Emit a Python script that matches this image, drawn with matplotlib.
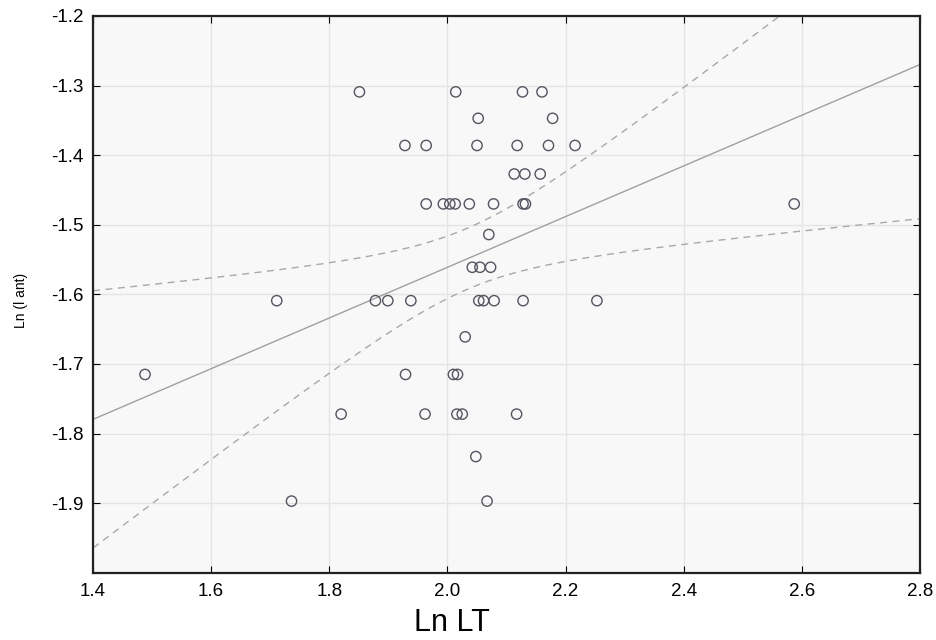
import numpy as np
import matplotlib
matplotlib.use("Agg")
import matplotlib.pyplot as plt

# Ln LT values grouped by Ln(I ant) level
x_vals = [
    1.851, 2.014, 2.127, 2.160,
    2.052, 2.178,
    1.928, 1.964, 2.050, 2.118, 2.171, 2.216,
    2.113, 2.131, 2.157,
    1.964, 1.993, 2.004, 2.013, 2.037, 2.078, 2.128, 2.132, 2.587,
    2.070,
    2.042, 2.055, 2.073,
    1.711, 1.878, 1.899, 1.938, 2.053, 2.061, 2.079, 2.128, 2.253,
    2.030,
    1.488, 1.929, 2.010, 2.017,
    1.820, 1.962, 2.016, 2.025, 2.117,
    2.048,
    1.736, 2.067,
]
y_vals = (
    [-1.309] * 4 + [-1.347] * 2 + [-1.386] * 6 + [-1.427] * 3 + [-1.470] * 9
    + [-1.514] * 1 + [-1.561] * 3 + [-1.609] * 9 + [-1.661] * 1 + [-1.715] * 4
    + [-1.772] * 5 + [-1.833] * 1 + [-1.897] * 2
)
x_ticks = [1.4, 1.6, 1.8, 2.0, 2.2, 2.4, 2.6, 2.8]
y_ticks = [-1.9, -1.8, -1.7, -1.6, -1.5, -1.4, -1.3, -1.2]

x = np.array(x_vals)
y = np.array(y_vals)
n = len(x)
slope, intercept = np.polyfit(x, y, 1)
resid = y - (slope * x + intercept)
s = np.sqrt(np.sum(resid**2) / (n - 2))
xm = x.mean()
sxx = np.sum((x - xm) ** 2)
t95 = 2.0106

xx = np.linspace(1.4, 2.8, 200)
yy = slope * xx + intercept
hw = t95 * s * np.sqrt(1.0 / n + (xx - xm) ** 2 / sxx)

plt.rcParams['font.family'] = ['Liberation Sans', 'DejaVu Sans']
fig = plt.figure(figsize=(9.37, 6.4), dpi=100)
ax = fig.add_axes([0.0993, 0.105, 0.8826, 0.870])
ax.set_facecolor('#f8f8f8')
ax.grid(True, color='#e4e4e4', linewidth=1.0)
ax.set_axisbelow(True)

ax.plot(xx, yy, color='#a0a0a0', linewidth=1.0)
ax.plot(xx, yy + hw, color='#a8a8a8', linewidth=1.0, linestyle=(0, (5, 4)))
ax.plot(xx, yy - hw, color='#a8a8a8', linewidth=1.0, linestyle=(0, (5, 4)))
ax.scatter(x, y, s=55, facecolors='none', edgecolors='#555560', linewidths=1.0, zorder=3)

ax.set_xlim(1.4, 2.8)
ax.set_ylim(-2.0, -1.2)
ax.set_xticks(x_ticks)
ax.set_yticks(y_ticks)
ax.set_xticklabels([f"{v:.1f}" for v in x_ticks])
ax.set_yticklabels([f"{v:.1f}" for v in y_ticks])
ax.tick_params(direction='in', top=True, right=True, length=5, labelsize=13.5,
               colors='black', pad=7)
for sp in ax.spines.values():
    sp.set_linewidth(1.6)
    sp.set_color('#222222')

ax.set_xlabel('Ln LT', fontsize=22)
ax.xaxis.set_label_coords(0.434, -0.063)
ax.set_ylabel('Ln (l ant)', fontsize=10)
ax.yaxis.set_label_coords(-0.079, 0.49)

fig.savefig('out.png', dpi=100)
